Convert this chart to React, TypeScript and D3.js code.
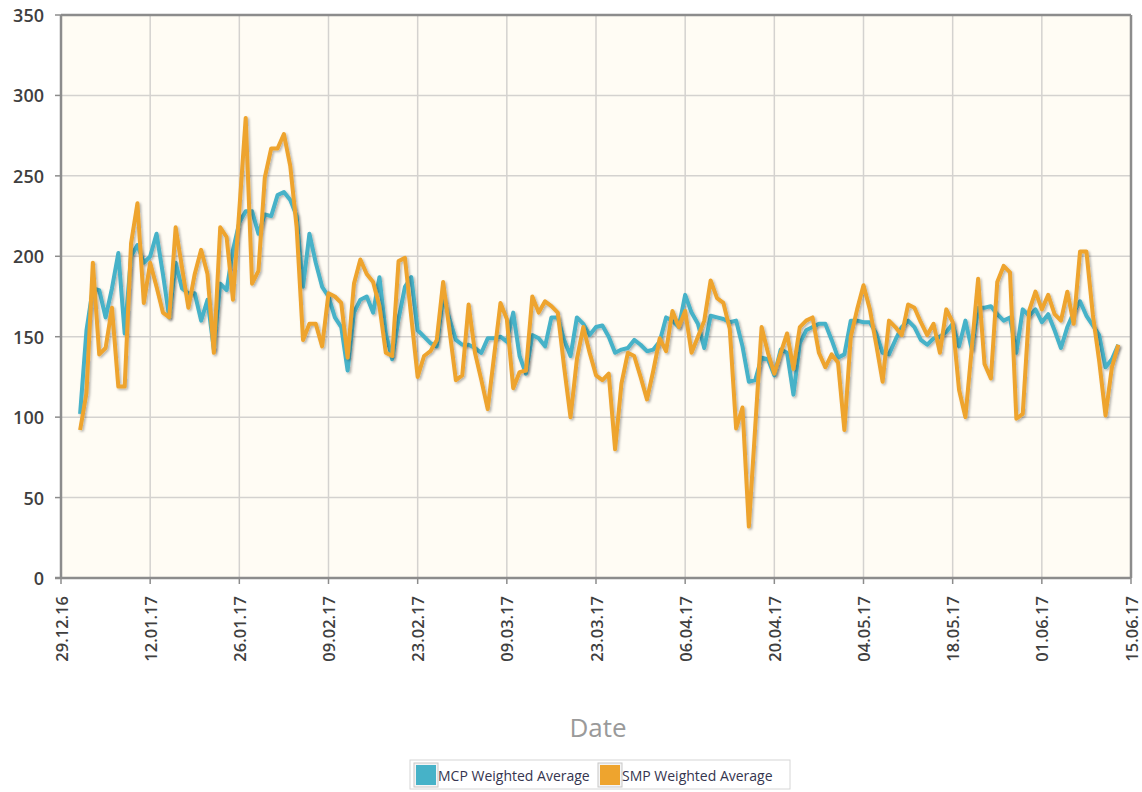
import React from 'react';
import * as d3 from 'd3';

// MCP Weighted Average, daily from 01.01.17
const mcpValues = [
  102, 154, 180, 179, 162, 180, 202, 152, 200, 207, 196, 200, 214, 189, 162, 196, 180, 177, 177, 160,
  173, 142, 183, 179, 204, 221, 228, 228, 214, 226, 225, 238, 240, 235, 225, 181, 214, 196, 181, 175,
  162, 156, 129, 165, 173, 175, 165, 187, 152, 136, 161, 181, 187, 154, 150, 146, 144, 175, 161, 148,
  145, 145, 143, 140, 149, 149, 150, 147, 165, 138, 127, 151, 149, 144, 162, 162, 148, 138, 162, 158,
  151, 156, 157, 150, 140, 142, 143, 148, 145, 141, 142, 147, 162, 160, 156, 176, 165, 158, 143, 163,
  162, 161, 159, 160, 144, 122, 123, 137, 136, 126, 142, 140, 114, 146, 154, 156, 158, 158, 148, 137,
  139, 160, 160, 159, 159, 152, 140, 139, 148, 156, 160, 156, 148, 145, 149, 150, 153, 158, 144, 160,
  142, 168, 168, 169, 164, 160, 162, 140, 167, 163, 167, 159, 164, 154, 143, 156, 165, 172, 163, 157,
  151, 131, 136, 145,
];

// SMP Weighted Average, daily from 01.01.17
const smpValues = [
  92, 115, 196, 139, 143, 168, 119, 119, 208, 233, 171, 196, 181, 165, 162, 218, 193, 168, 189, 204,
  189, 140, 218, 212, 173, 229, 286, 183, 191, 249, 267, 267, 276, 256, 218, 148, 158, 158, 144, 177,
  175, 171, 137, 183, 198, 189, 184, 169, 140, 138, 197, 199, 162, 125, 138, 141, 148, 184, 154, 123,
  126, 170, 140, 123, 105, 138, 171, 161, 118, 128, 129, 175, 165, 172, 169, 165, 131, 100, 136, 156,
  140, 126, 123, 127, 80, 121, 140, 138, 125, 111, 129, 149, 141, 166, 156, 166, 140, 150, 160, 185,
  174, 171, 155, 93, 106, 32, 94, 156, 140, 127, 140, 152, 130, 156, 160, 162, 140, 131, 139, 134,
  92, 150, 167, 182, 167, 145, 122, 160, 156, 151, 170, 168, 159, 151, 158, 140, 167, 159, 117, 100,
  143, 186, 133, 124, 184, 194, 190, 99, 102, 166, 178, 167, 176, 164, 160, 178, 158, 203, 203, 164,
  135, 101, 131, 145,
];

const xTickLabels = [
  '29.12.16', '12.01.17', '26.01.17', '09.02.17', '23.02.17', '09.03.17', '23.03.17',
  '06.04.17', '20.04.17', '04.05.17', '18.05.17', '01.06.17', '15.06.17',
];
const yTickValues = [0, 50, 100, 150, 200, 250, 300, 350];

const seriesNames = ['MCP Weighted Average', 'SMP Weighted Average'];
const seriesColors = ['#46b2c8', '#eea42e'];

const firstDay = new Date(2017, 0, 1);
const dates = d3.timeDay.range(firstDay, d3.timeDay.offset(firstDay, mcpValues.length));
const parse = d3.timeParse('%d.%m.%y');

export default function App() {
  const W = 1142;
  const H = 792;
  const left = 61;
  const right = 1131;
  const top = 15;
  const bottom = 578;

  const x = d3
    .scaleTime()
    .domain([parse(xTickLabels[0]) as Date, parse(xTickLabels[xTickLabels.length - 1]) as Date])
    .range([left, right]);
  const y = d3.scaleLinear().domain([0, 350]).range([bottom, top]);

  const line = d3
    .line<number>()
    .x((_, i) => x(dates[i]))
    .y((v) => y(v))
    .curve(d3.curveLinear);

  const series = [mcpValues, smpValues];
  const font = "'Open Sans', 'Noto Sans', sans-serif";

  return (
    <svg
      width={W}
      height={H}
      style={{ position: 'absolute', left: 0, top: 0, background: '#ffffff' }}
      fontFamily={font}
    >
      <defs>
        <filter id="shadow" x="-5%" y="-5%" width="110%" height="110%">
          <feDropShadow dx="1.5" dy="1.5" stdDeviation="1" floodColor="#000" floodOpacity="0.3" />
        </filter>
        <clipPath id="plotClip">
          <rect x={left} y={top} width={right - left} height={bottom - top} />
        </clipPath>
      </defs>

      <rect x={left} y={top} width={right - left} height={bottom - top} fill="#fffcf4" />

      {/* grid */}
      {yTickValues.map((v) => (
        <line key={'gy' + v} x1={left} x2={right} y1={y(v)} y2={y(v)} stroke="#d4d2cf" strokeWidth={1.5} />
      ))}
      {xTickLabels.map((t) => {
        const gx = x(parse(t) as Date);
        return <line key={'gx' + t} x1={gx} x2={gx} y1={top} y2={bottom} stroke="#d4d2cf" strokeWidth={1.5} />;
      })}

      {/* lines */}
      <g clipPath="url(#plotClip)">
        {series.map((s, i) => (
          <path
            key={seriesNames[i]}
            d={line(s) || ''}
            fill="none"
            stroke={seriesColors[i]}
            strokeWidth={4}
            strokeLinejoin="round"
            filter="url(#shadow)"
          />
        ))}
      </g>

      {/* frame */}
      <line x1={left} x2={right} y1={top} y2={top} stroke="#8c8c8c" strokeWidth={2.5} />
      <line x1={right} x2={right} y1={top} y2={bottom} stroke="#8c8c8c" strokeWidth={2.5} />
      <line x1={left} x2={left} y1={top} y2={bottom} stroke="#8c8c8c" strokeWidth={2.5} />
      <line x1={left - 6} x2={right} y1={bottom} y2={bottom} stroke="#8c8c8c" strokeWidth={2.5} />

      {/* y axis ticks */}
      {yTickValues.map((v) => (
        <g key={'yt' + v}>
          <line x1={left - 6} x2={left} y1={y(v)} y2={y(v)} stroke="#8c8c8c" strokeWidth={1.5} />
          <text
            x={44}
            y={y(v)}
            textAnchor="end"
            dominantBaseline="central"
            fontSize={18}
            fontWeight={600}
            fill="#3f3f3f"
          >
            {v}
          </text>
        </g>
      ))}

      {/* x axis ticks */}
      {xTickLabels.map((t) => {
        const gx = x(parse(t) as Date);
        return (
          <g key={'xt' + t}>
            <line x1={gx} x2={gx} y1={bottom} y2={bottom + 6} stroke="#8c8c8c" strokeWidth={1.5} />
            <text
              transform={`translate(${gx},${596}) rotate(-90)`}
              textAnchor="end"
              dominantBaseline="central"
              fontSize={16.5}
              fontWeight={600}
              fill="#3f3f3f"
            >
              {t}
            </text>
          </g>
        );
      })}

      {/* axis title */}
      <text x={598} y={737} textAnchor="middle" fontSize={26} fill="#9a9a9a">
        Date
      </text>

      {/* legend */}
      <rect x={410} y={760} width={380} height={29} fill="#ffffff" stroke="#d6d6d6" strokeWidth={1} />
      {seriesNames.map((name, i) => {
        const lx = i === 0 ? 414 : 598;
        return (
          <g key={'lg' + name}>
            <rect x={lx} y={763} width={24} height={24} fill="#f4f4f4" stroke="#c8c8c8" strokeWidth={1} />
            <rect x={lx + 2} y={765} width={20} height={20} fill={seriesColors[i]} />
            <text x={lx + 24} y={775.5} dominantBaseline="central" fontSize={14} fill="#35354f">
              {name}
            </text>
          </g>
        );
      })}
    </svg>
  );
}
